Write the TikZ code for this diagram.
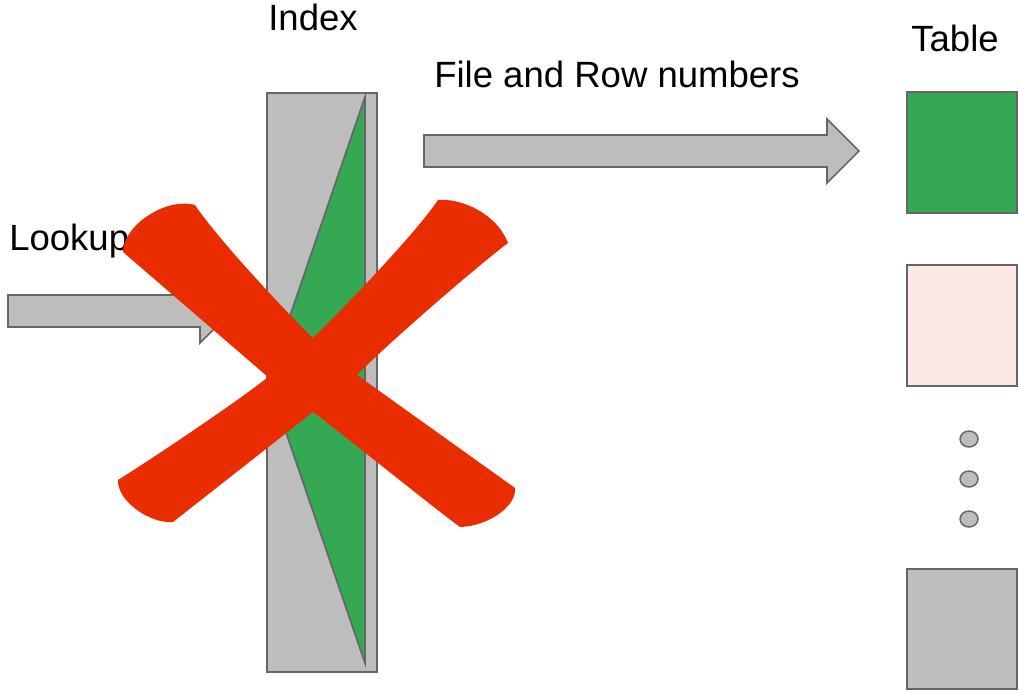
\documentclass[tikz,border=0pt]{standalone}
\usepackage{fontspec}
\setmainfont{Liberation Sans}
\definecolor{boxgrey}{HTML}{BDBDBD}
\definecolor{edgegrey}{HTML}{666666}
\definecolor{idxgreen}{HTML}{34A853}
\definecolor{rowpink}{HTML}{FCE8E6}
\definecolor{crossred}{HTML}{EA2D00}
\begin{document}
\begin{tikzpicture}[x=0.75pt,y=-0.75pt,
  outlined/.style={draw=edgegrey,line width=1.3pt,line join=miter},
  greybox/.style={outlined,fill=boxgrey},
  label/.style={font=\fontsize{27.4pt}{30pt}\selectfont,inner sep=0pt},
  dot/.style={outlined,fill=boxgrey,line width=1.1pt}]
\useasboundingbox (0,0) rectangle (1019,692);

% labels
\node[label,anchor=base] (idxlabel) at (313,31) {Index};
\node[label,anchor=base] (tbllabel) at (955,51) {Table};
\node[label,anchor=base] (rowslabel) at (617,88) {File and Row numbers};
\node[label,anchor=base west] (lookuplabel) at (9,250) {Lookup};

% lookup arrow into the index
\draw[greybox] (8,295) -- (200,295) -- (200,279) -- (232,311) -- (200,343)
  -- (200,327) -- (8,327) -- cycle;

% index column with its sorted wedge
\draw[greybox] (267,93) rectangle (377,672);
\draw[outlined,fill=idxgreen] (365,97) -- (268,380) -- (365,663) -- cycle;

% result arrow to the table
\draw[greybox] (424,135) -- (827,135) -- (827,119) -- (859,151) -- (827,183)
  -- (827,167) -- (424,167) -- cycle;

% table blocks
\draw[outlined,fill=idxgreen] (907,92) rectangle (1017,213);
\draw[outlined,fill=rowpink] (907,265) rectangle (1017,386);
\draw[greybox] (907,569) rectangle (1017,689);
\foreach \yy in {439,479,519}
  \draw[dot] (969,\yy) ellipse [x radius=9,y radius=8];

% red cross over the index: four flared arms with rounded ends
\fill[crossred]
  (313,338) .. controls (342,310) and (416,233) .. (438,200)
  .. controls (462,198) and (497,214) .. (508,243)
  .. controls (476,267) and (385,346) .. (357,375)
  -- (515,488)
  .. controls (517,505) and (490,526) .. (460,527)
  .. controls (425,501) and (340,432) .. (313,412)
  -- (173,522)
  .. controls (150,524) and (117,501) .. (118,480)
  .. controls (150,460) and (240,400) .. (268,377)
  -- (123,252)
  .. controls (123,226) and (165,197) .. (195,205)
  .. controls (217,238) and (284,310) .. cycle;
\end{tikzpicture}
\end{document}
